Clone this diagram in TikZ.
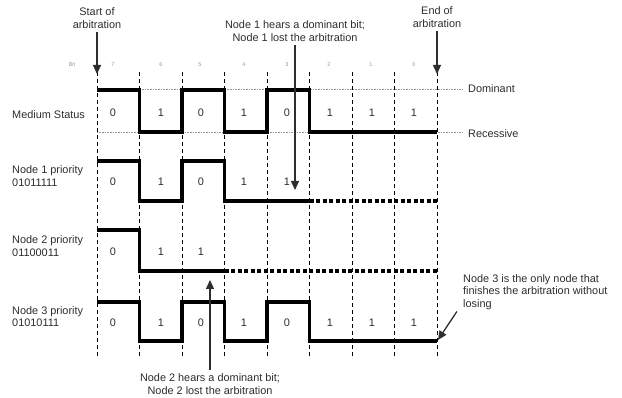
\documentclass[tikz,border=0pt]{standalone}
\usepackage{fontspec}
\setmainfont{Liberation Sans}
\usetikzlibrary{arrows.meta,positioning,calc}
\definecolor{ink}{RGB}{45,45,45}
\definecolor{faint}{RGB}{150,150,150}

\begin{document}
\begin{tikzpicture}[x=1pt,y=-1pt,
    txt/.style={font=\fontsize{10.9}{12.5}\selectfont,text=ink,inner sep=0pt},
    bitnum/.style={font=\fontsize{5.5}{6}\selectfont,text=faint,inner sep=0pt},
    grid/.style={black,line width=0.9pt,dash pattern=on 4pt off 3pt},
    level/.style={faint,line width=0.6pt,densely dotted},
    wave/.style={line width=3.8pt,line join=miter},
    lost/.style={line width=3.8pt,dash pattern=on 4pt off 2.5pt},
    pointer/.style={ink,line width=1.3pt,shorten <=4pt,-{Triangle[length=9pt,width=8pt]}}]
  \useasboundingbox (0,0) rectangle (622,398);

  % bit boundaries and bus levels
  \foreach \i in {0,...,8}
    \draw[grid] (97+42.5*\i,72) -- (97+42.5*\i,357);
  \draw[level] (97,89) -- (463,89);
  \draw[level] (97,132) -- (463,132);

  \node[bitnum] (bit) at (72,65) {Bit};
  \foreach \x/\n in {113/7,161/6,200/5,244/4,287/3,329/2,371/1,414/0}
    \node[bitnum] (bit\n) at (\x,65) {\n};

  % left and right labels
  \node[txt,anchor=west] (medium) at (12,115) {Medium Status};
  \node[txt,anchor=west,align=left] (prio1) at (12,176) {Node 1 priority\\01011111};
  \node[txt,anchor=west,align=left] (prio2) at (12,246) {Node 2 priority\\01100011};
  \node[txt,anchor=west,align=left] (prio3) at (12,316.5) {Node 3 priority\\01010111};
  \node[txt,anchor=west] (dom) at (468,89) {Dominant};
  \node[txt,anchor=west] (rec) at (468,134) {Recessive};

  % signals
  \draw[wave] (97,90) -| (139.5,132) -| (182,90) -| (224.5,132) -| (267,90) -| (309.5,132) -- (437,132);
  \draw[wave] (97,161) -| (139.5,201) -| (182,161) -| (224.5,201) -- (309.5,201);
  \draw[lost] (309.5,201) -- (437,201);
  \draw[wave] (97,230) -| (139.5,271) -- (224.5,271);
  \draw[lost] (224.5,271) -- (437,271);
  \draw[wave] (97,302) -| (139.5,341) -| (182,302) -| (224.5,341) -| (267,302) -| (309.5,341) -- (437,341);

  \foreach \x/\b [count=\k] in {113/0,161/1,201/0,244/1,287/0,330/1,372/1,414/1}
    \node[txt] (med\k) at (\x,113) {\b};
  \foreach \x/\b [count=\k] in {113/0,161/1,201/0,244/1,287/1}
    \node[txt] (one\k) at (\x,182) {\b};
  \foreach \x/\b [count=\k] in {113/0,161/1,201/1}
    \node[txt] (two\k) at (\x,252) {\b};
  \foreach \x/\b [count=\k] in {113/0,161/1,201/0,244/1,287/0,330/1,372/1,414/1}
    \node[txt] (three\k) at (\x,323) {\b};

  % annotations
  \node[txt,align=center] (start) at (97,18) {Start of\\arbitration};
  \node[txt,align=center] (finish) at (437,17) {End of\\arbitration};
  \node[txt,align=center] (hear1) at (295,31) {Node 1 hears a dominant bit;\\Node 1 lost the arbitration};
  \node[txt,align=center] (hear2) at (210,384) {Node 2 hears a dominant bit;\\Node 2 lost the arbitration};
  \node[txt,anchor=west,align=left] (only3) at (463,292) {Node 3 is the only node that\\finishes the arbitration without\\losing};

  \coordinate (t0) at (97,74);
  \coordinate (t8) at (437,74);
  \coordinate (hit1) at (295,190);
  \coordinate (hit2) at (210,280);
  \coordinate (win3) at (438,340);
  \draw[pointer] (start) -- (t0);
  \draw[pointer] (finish) -- (t8);
  \draw[pointer] (hear1) -- (hit1);
  \draw[pointer] (hear2) -- (hit2);
  \draw[pointer,shorten <=2pt] ([xshift=-5pt]only3.south west) -- (win3);
\end{tikzpicture}
\end{document}
